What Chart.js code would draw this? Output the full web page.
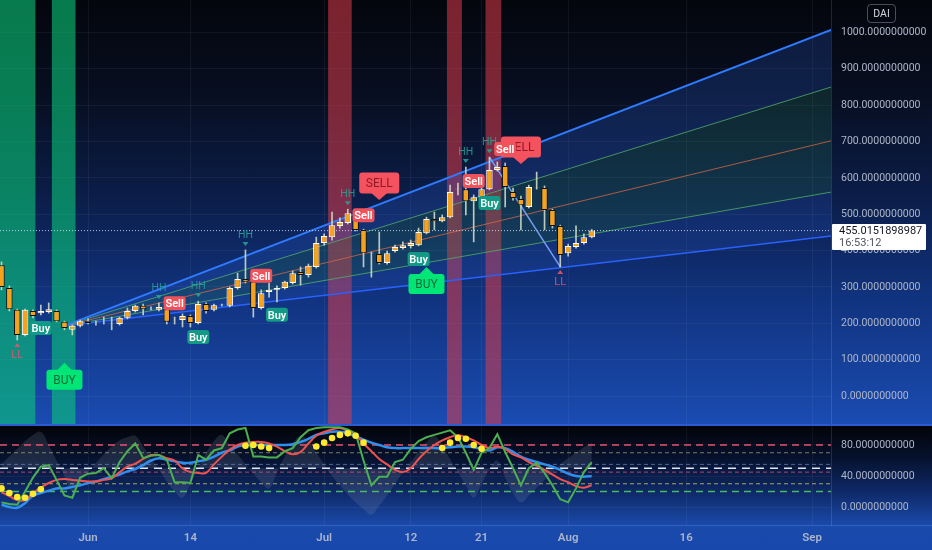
<!DOCTYPE html>
<html>
<head>
<meta charset="utf-8">
<script src="https://cdn.jsdelivr.net/npm/chart.js@4.4.1/dist/chart.umd.min.js"></script>
<style>
  html, body { margin: 0; padding: 0; background: #061024; }
  #wrap { position: relative; width: 932px; height: 550px; overflow: hidden; font-family: Roboto, sans-serif; }
  #top { position: absolute; left: 0; top: 0; width: 932px; height: 426px;
    background: linear-gradient(to bottom, #04060d 0%, #070e20 22%, #0b1d48 46%, #11337f 70%, #1a4cb2 100%); }
  #bot { position: absolute; left: 0; top: 426px; width: 932px; height: 124px;
    background: linear-gradient(to bottom, #020409 0%, #06112c 25%, #0f2b6c 55%, #1a4aaa 80%, #1848ac 100%); }
  #sep { position: absolute; left: 0; top: 424px; width: 932px; height: 2px; background: #2a5bd0; }
  #strip { position: absolute; left: 0; top: 525px; width: 932px; height: 1px; background: rgba(120,160,255,0.25); }
  canvas { position: absolute; left: 0; }
  #dai { position: absolute; left: 867px; top: 4px; width: 27px; height: 17px; border: 1px solid rgba(200,210,230,0.35);
    border-radius: 4px; color: #d1d4dc; font-size: 10.5px; line-height: 17px; text-align: center; }
  #pricebox { position: absolute; left: 832px; top: 224px; width: 94px; height: 26px; background: #ffffff; border-radius: 1px;
    color: #131722; font-size: 11px; line-height: 12px; padding-left: 7px; box-sizing: border-box; padding-top: 1px; }
  #pricebox span { color: #50535e; }
</style>
</head>
<body>
<div id="wrap">
  <div id="top"></div>
  <div id="bot"></div>
  <div id="strip"></div>
  <canvas id="mainChart" width="932" height="426" style="top:0"></canvas>
  <canvas id="oscChart" width="932" height="124" style="top:426px"></canvas>
  <div id="sep"></div>
  <div id="dai">DAI</div>
  <div id="pricebox">455.0151898987<br><span>16:53:12</span></div>
</div>
<script>
// dias desde el 1 de junio; la primera vela es el 21 de mayo
const firstDay = -11;
const tickDays = [0, 13, 30, 41, 50, 61, 76, 92];
const tickLabels = ['Jun', '14', 'Jul', '12', '21', 'Aug', '16', 'Sep'];
const priceTicks = [0, 100, 200, 300, 400, 500, 600, 700, 800, 900, 1000];
const oscTicks = [0, 40, 80];

// velas diarias
const opens = [360,297,237,168,234,228,231,234,204,182, 193,206,201,204,198,198,215,234,248,239,
  237,239,206,209,220,201,253,237,250,248, 297,322,314,242,286,292,297,311,341,333,
  355,421,437,468,476,503,457,393,391,366, 399,407,413,415,448,487,481,492,569,569,
  536,547,569,622,633,561,542,520,572,572, 512,468,393,410,421,437];
const highs = [369,303,239,239,237,250,256,237,206,195, 209,212,206,217,217,217,242,250,253,245,
  256,248,217,226,223,261,256,253,253,300, 338,402,316,292,311,303,316,344,355,363,
  437,446,506,490,514,512,459,396,451,399, 415,424,429,462,492,506,498,580,586,630,
  553,578,657,644,641,572,550,580,616,578, 514,470,418,468,446,458];
const lows = [292,234,154,165,215,223,228,204,182,168, 190,198,195,198,182,195,212,231,223,237,
  234,198,198,190,190,198,228,234,248,245, 294,311,217,239,272,259,294,308,305,327,
  352,415,429,462,473,454,355,327,363,363, 396,404,407,413,446,457,479,490,553,498,
  424,545,567,619,520,539,457,517,569,457, 462,355,385,407,418,435];
const closes = [300,239,168,237,220,234,239,206,187,193, 206,201,200,203,199,215,234,248,239,240,
  245,204,205,220,201,253,234,250,251,297, 322,314,242,283,292,297,314,338,333,358,
  421,440,470,479,503,457,393,394,366,393, 410,415,421,451,487,481,492,561,570,536,
  547,569,622,630,575,545,525,575,573,512, 468,388,413,421,437,455];
const lastPrice = 455.0151898987;

// canal
const chanStartDay = -3;
const chanStartPrice = 193;
const chanEndDay = 94.4;
const chanEndPrices = [1007, 850, 702, 561, 440];

// zigzag HH -> LL
const zigIdx = [62, 71];
const zigPrices = [657, 355];

// señales (índices de vela)
const buyIdx = [5, 25, 35, 53, 62];
const sellIdx = [22, 33, 46, 60, 64];
const hhIdx = [20, 25, 31, 44, 59, 62];
const llIdx = [2, 71];
const bigBuyIdx = [8, 54];
const bigSellIdx = [48, 66];

// zonas verticales [inicio, fin] en días
const greenZones = [[-11.6, -6.7], [-4.6, -1.6]];
const redZones = [[30.5, 33.5], [45.6, 47.5], [50.5, 52.5]];

// oscilador
const oscGreen = [6,4,3,20,38,52,54,35,15,12, 38,43,44,50,37,58,72,82,63,66,
  67,61,32,32,31,67,61,73,76,95, 100,102,65,65,64,64,72,76,90,99,
  102,103,103,103,100,95,60,28,39,39, 58,61,75,85,90,93,96,99,90,70,
  48,70,76,94,71,50,28,50,57,44, 28,10,6,24,45,58];
const oscRed = [19,14,9,9,18,25,31,35,36,35, 34,33,33,35,37,45,52,56,62,67,
  67,63,60,50,45,44,44,55,65,74, 80,83,84,84,82,78,72,68,71,82,
  92,97,100,102,98,93,82,72,62,55, 48,45,50,62,72,80,86,90,93,90,
  86,80,76,78,75,68,64,58,53,48, 42,36,32,27,25,28];
const oscBlue = [3,0,-1,5,15,18,21,24,24,26, 28,31,33,36,39,42,46,49,54,60,
  63,61,59,57,57,59,61,65,70,73, 78,80,80,80,80,80,80,81,84,88,
  93,95,97,97,95,91,87,83,80,77, 76,76,76,76,76,76,76,77,78,78,
  77,75,73,77,76,71,65,61,58,55, 52,48,43,40,39,40];
const oscGray = [55,65,75,85,93,97,80,60,40,20, 32,45,57,68,78,86,90,92,78,63,
  48,33,20,12,30,50,70,85,93,80, 68,55,43,32,24,45,65,82,92,85,
  70,55,40,28,16,6,-3,-10,2,15, 30,45,58,72,84,92,80,62,45,28,
  12,30,48,60,38,18,6,15,25,35, 45,55,63,70,77,83];
const dotIdx = [0,1,2,3,4,5, 31,32,33,34, 40,41,42,43,44,45,46, 56,57,58,59,60,61];
const dotVals = [24,18,13,12,17,23, 79,80,78,76, 78,83,89,93,95,92,83, 76,83,89,88,80,75];
const oscLevels = [80, 70, 55, 50, 45, 30, 20];
const oscBase = 50;

// estilos
const levelColors = ['#e0566f', 'rgba(190,200,150,0.6)', 'rgba(130,150,200,0.6)', '#dfe6f2',
  'rgba(220,80,120,0.8)', 'rgba(200,200,90,0.8)', 'rgba(80,200,110,0.9)'];
const levelDash = [[7,5], [4,3], [4,3], [8,6], [4,3], [4,3], [7,5]];
const levelWidth = [1.5, 1, 1, 1.5, 1, 1, 1.5];
const chanColors = ['#2f7bff', 'rgba(90,180,100,0.8)', 'rgba(230,100,70,0.8)', 'rgba(90,180,100,0.8)', '#2962ff'];
const chanWidths = [2, 1, 1, 1, 1.5];
const chanFills = ['rgba(45,100,220,0.22)', 'rgba(40,130,90,0.22)', 'rgba(40,130,90,0.22)', 'rgba(45,100,220,0.18)', false];

const xMin = -11.19;
const xMax = 94.4;
const dayOf = i => i + firstDay;

// zonas de fondo
const zonesPlugin = {
  id: 'zones',
  beforeDatasetsDraw(chart) {
    const { ctx, chartArea: a, scales: { x } } = chart;
    ctx.save();
    const paint = (zones, color) => zones.forEach(([s, e]) => {
      const x1 = x.getPixelForValue(s), x2 = x.getPixelForValue(e);
      ctx.fillStyle = color;
      ctx.fillRect(x1, a.top, x2 - x1, a.bottom - a.top);
    });
    paint(greenZones, 'rgba(10,200,120,0.6)');
    paint(redZones, 'rgba(220,60,75,0.55)');
    ctx.restore();
  }
};

function box(ctx, cx, cy, w, h, color) {
  ctx.fillStyle = color;
  ctx.beginPath();
  ctx.roundRect(cx - w / 2, cy - h / 2, w, h, 3);
  ctx.fill();
}

// etiquetas de señales
const signalsPlugin = {
  id: 'signals',
  afterDatasetsDraw(chart) {
    const { ctx, scales: { x, y } } = chart;
    ctx.save();
    ctx.textAlign = 'center';
    ctx.textBaseline = 'middle';

    // HH / LL
    hhIdx.forEach(i => {
      const px = x.getPixelForValue(dayOf(i)), py = y.getPixelForValue(highs[i]);
      ctx.fillStyle = 'rgba(38,166,154,0.85)';
      ctx.beginPath();
      ctx.moveTo(px - 3, py - 8); ctx.lineTo(px + 3, py - 8); ctx.lineTo(px, py - 4); ctx.fill();
      ctx.font = '10.5px Roboto';
      ctx.fillText('HH', px, py - 15);
    });
    llIdx.forEach(i => {
      const px = x.getPixelForValue(dayOf(i)), py = y.getPixelForValue(lows[i]);
      ctx.fillStyle = 'rgba(239,83,100,0.85)';
      ctx.beginPath();
      ctx.moveTo(px - 3, py + 7); ctx.lineTo(px + 3, py + 7); ctx.lineTo(px, py + 3); ctx.fill();
      ctx.font = '11px Roboto';
      ctx.fillText('LL', px, py + 15);
    });

    // BUY / SELL grandes
    ctx.font = '12px Roboto';
    bigBuyIdx.forEach(i => {
      const px = x.getPixelForValue(dayOf(i)), cy = y.getPixelForValue(lows[i]) + 50;
      box(ctx, px, cy, 36, 20, '#00e676');
      ctx.beginPath();
      ctx.moveTo(px - 8, cy - 9); ctx.lineTo(px + 8, cy - 9); ctx.lineTo(px, cy - 17); ctx.fill();
      ctx.fillStyle = '#0b6b3a';
      ctx.fillText('BUY', px, cy + 1);
    });
    bigSellIdx.forEach(i => {
      const px = x.getPixelForValue(dayOf(i)), cy = y.getPixelForValue(highs[i]) - 49;
      box(ctx, px, cy, 40, 21, '#f5525f');
      ctx.beginPath();
      ctx.moveTo(px - 8, cy + 10); ctx.lineTo(px + 8, cy + 10); ctx.lineTo(px, cy + 17); ctx.fill();
      ctx.fillStyle = '#8e1a26';
      ctx.fillText('SELL', px, cy + 1);
    });

    // Buy / Sell pequeñas
    ctx.font = '600 11px Roboto';
    buyIdx.forEach(i => {
      const px = x.getPixelForValue(dayOf(i)), cy = y.getPixelForValue(lows[i]) + 13;
      box(ctx, px, cy, 22, 14, '#119a85');
      ctx.fillStyle = '#ffffff';
      ctx.fillText('Buy', px, cy + 1);
    });
    sellIdx.forEach(i => {
      const px = x.getPixelForValue(dayOf(i)), cy = y.getPixelForValue(highs[i]) - 14;
      box(ctx, px, cy, 22, 14, '#f0525c');
      ctx.fillStyle = '#ffffff';
      ctx.fillText('Sell', px, cy + 1);
    });
    ctx.restore();
  }
};

const dayTicks = scale => { scale.ticks = tickDays.map(v => ({ value: v })); };
const noPad = s => { s.paddingTop = 0; s.paddingBottom = 0; s.paddingLeft = 0; s.paddingRight = 0; };
const gridColor = 'rgba(255,255,255,0.05)';
const axisFont = { family: 'Roboto', size: 10.5 };

const chanDatasets = chanEndPrices.map((p, k) => ({
  type: 'line',
  data: [{ x: chanStartDay, y: chanStartPrice }, { x: chanEndDay, y: p }],
  borderColor: chanColors[k],
  borderWidth: chanWidths[k],
  backgroundColor: chanFills[k] || 'transparent',
  fill: chanFills[k] ? '+1' : false,
  pointRadius: 0,
  order: 20
}));

new Chart(document.getElementById('mainChart'), {
  type: 'bar',
  data: {
    datasets: [
      ...chanDatasets,
      {
        type: 'line',
        data: [{ x: xMin, y: lastPrice }, { x: xMax, y: lastPrice }],
        borderColor: 'rgba(225,232,255,0.8)',
        borderWidth: 1,
        borderDash: [1, 2],
        pointRadius: 0,
        order: 15
      },
      {
        type: 'line',
        data: zigIdx.map((i, k) => ({ x: dayOf(i), y: zigPrices[k] })),
        borderColor: 'rgba(130,170,255,0.9)',
        borderWidth: 1.5,
        pointRadius: 0,
        order: 14
      },
      {
        data: opens.map((o, i) => ({ x: dayOf(i), y: [lows[i], highs[i]] })),
        backgroundColor: 'rgba(215,228,205,0.85)',
        barThickness: 1,
        grouped: false,
        order: 6
      },
      {
        data: opens.map((o, i) => ({ x: dayOf(i), y: [o, closes[i]] })),
        backgroundColor: '#f7a21e',
        borderColor: opens.map((o, i) => closes[i] >= o ? '#ffffff' : '#111111'),
        borderWidth: 1,
        borderSkipped: false,
        barPercentage: 0.82,
        categoryPercentage: 1,
        grouped: false,
        order: 5
      }
    ]
  },
  options: {
    responsive: false,
    animation: false,
    events: [],
    layout: { padding: 0, autoPadding: false },
    plugins: { legend: { display: false }, tooltip: { enabled: false } },
    scales: {
      x: {
        type: 'linear', min: xMin, max: xMax, offset: false,
        afterBuildTicks: dayTicks,
        afterFit: s => { s.height = 0; noPad(s); },
        ticks: { display: false },
        grid: { color: gridColor, drawTicks: false, offset: false },
        border: { display: false }
      },
      y: {
        position: 'right', min: -82.5, max: 1089.4,
        afterBuildTicks: s => { s.ticks = priceTicks.map(v => ({ value: v })); },
        afterFit: s => { s.width = 101; noPad(s); },
        ticks: { color: '#aeb6c8', font: axisFont, padding: 10, callback: v => v.toFixed(10) },
        grid: { color: gridColor, drawTicks: false },
        border: { color: 'rgba(255,255,255,0.12)' }
      }
    }
  },
  plugins: [zonesPlugin, signalsPlugin]
});

const series = vals => vals.map((v, i) => ({ x: dayOf(i), y: v }));

new Chart(document.getElementById('oscChart'), {
  type: 'line',
  data: {
    datasets: [
      {
        data: series(oscGray),
        backgroundColor: 'rgba(150,160,185,0.17)',
        borderWidth: 0,
        fill: { value: oscBase },
        tension: 0.4,
        pointRadius: 0,
        order: 20
      },
      ...oscLevels.map((v, k) => ({
        data: [{ x: xMin, y: v }, { x: xMax, y: v }],
        borderColor: levelColors[k],
        borderDash: levelDash[k],
        borderWidth: levelWidth[k],
        pointRadius: 0,
        order: 10
      })),
      { data: series(oscBlue), borderColor: '#2f8fef', borderWidth: 2.5, tension: 0.35, pointRadius: 0, order: 4 },
      { data: series(oscRed), borderColor: '#f0524f', borderWidth: 2, tension: 0.35, pointRadius: 0, order: 3 },
      { data: series(oscGreen), borderColor: '#4caf50', borderWidth: 2, tension: 0, pointRadius: 0, order: 2 },
      {
        data: dotIdx.map((i, k) => ({ x: dayOf(i), y: dotVals[k] })),
        showLine: false,
        pointRadius: 3.3,
        pointBackgroundColor: '#ffea2e',
        pointBorderWidth: 0,
        order: 1
      }
    ]
  },
  options: {
    responsive: false,
    animation: false,
    events: [],
    layout: { padding: 0, autoPadding: false },
    plugins: { legend: { display: false }, tooltip: { enabled: false } },
    scales: {
      x: {
        type: 'linear', min: xMin, max: xMax,
        afterBuildTicks: dayTicks,
        afterFit: s => { s.height = 25; noPad(s); },
        ticks: {
          color: '#aab4cc', font: { family: 'Roboto', size: 11.5, weight: '600' }, padding: 6,
          maxRotation: 0, autoSkip: false,
          callback: v => tickLabels[tickDays.indexOf(v)]
        },
        grid: { color: gridColor, drawTicks: false },
        border: { display: false }
      },
      y: {
        position: 'right', min: -23.2, max: 104.5,
        afterBuildTicks: s => { s.ticks = oscTicks.map(v => ({ value: v })); },
        afterFit: s => { s.width = 101; noPad(s); },
        ticks: { color: '#aeb6c8', font: axisFont, padding: 10, callback: v => v.toFixed(10) },
        grid: { color: gridColor, drawTicks: false },
        border: { color: 'rgba(255,255,255,0.12)' }
      }
    }
  }
});
</script>
</body>
</html>
